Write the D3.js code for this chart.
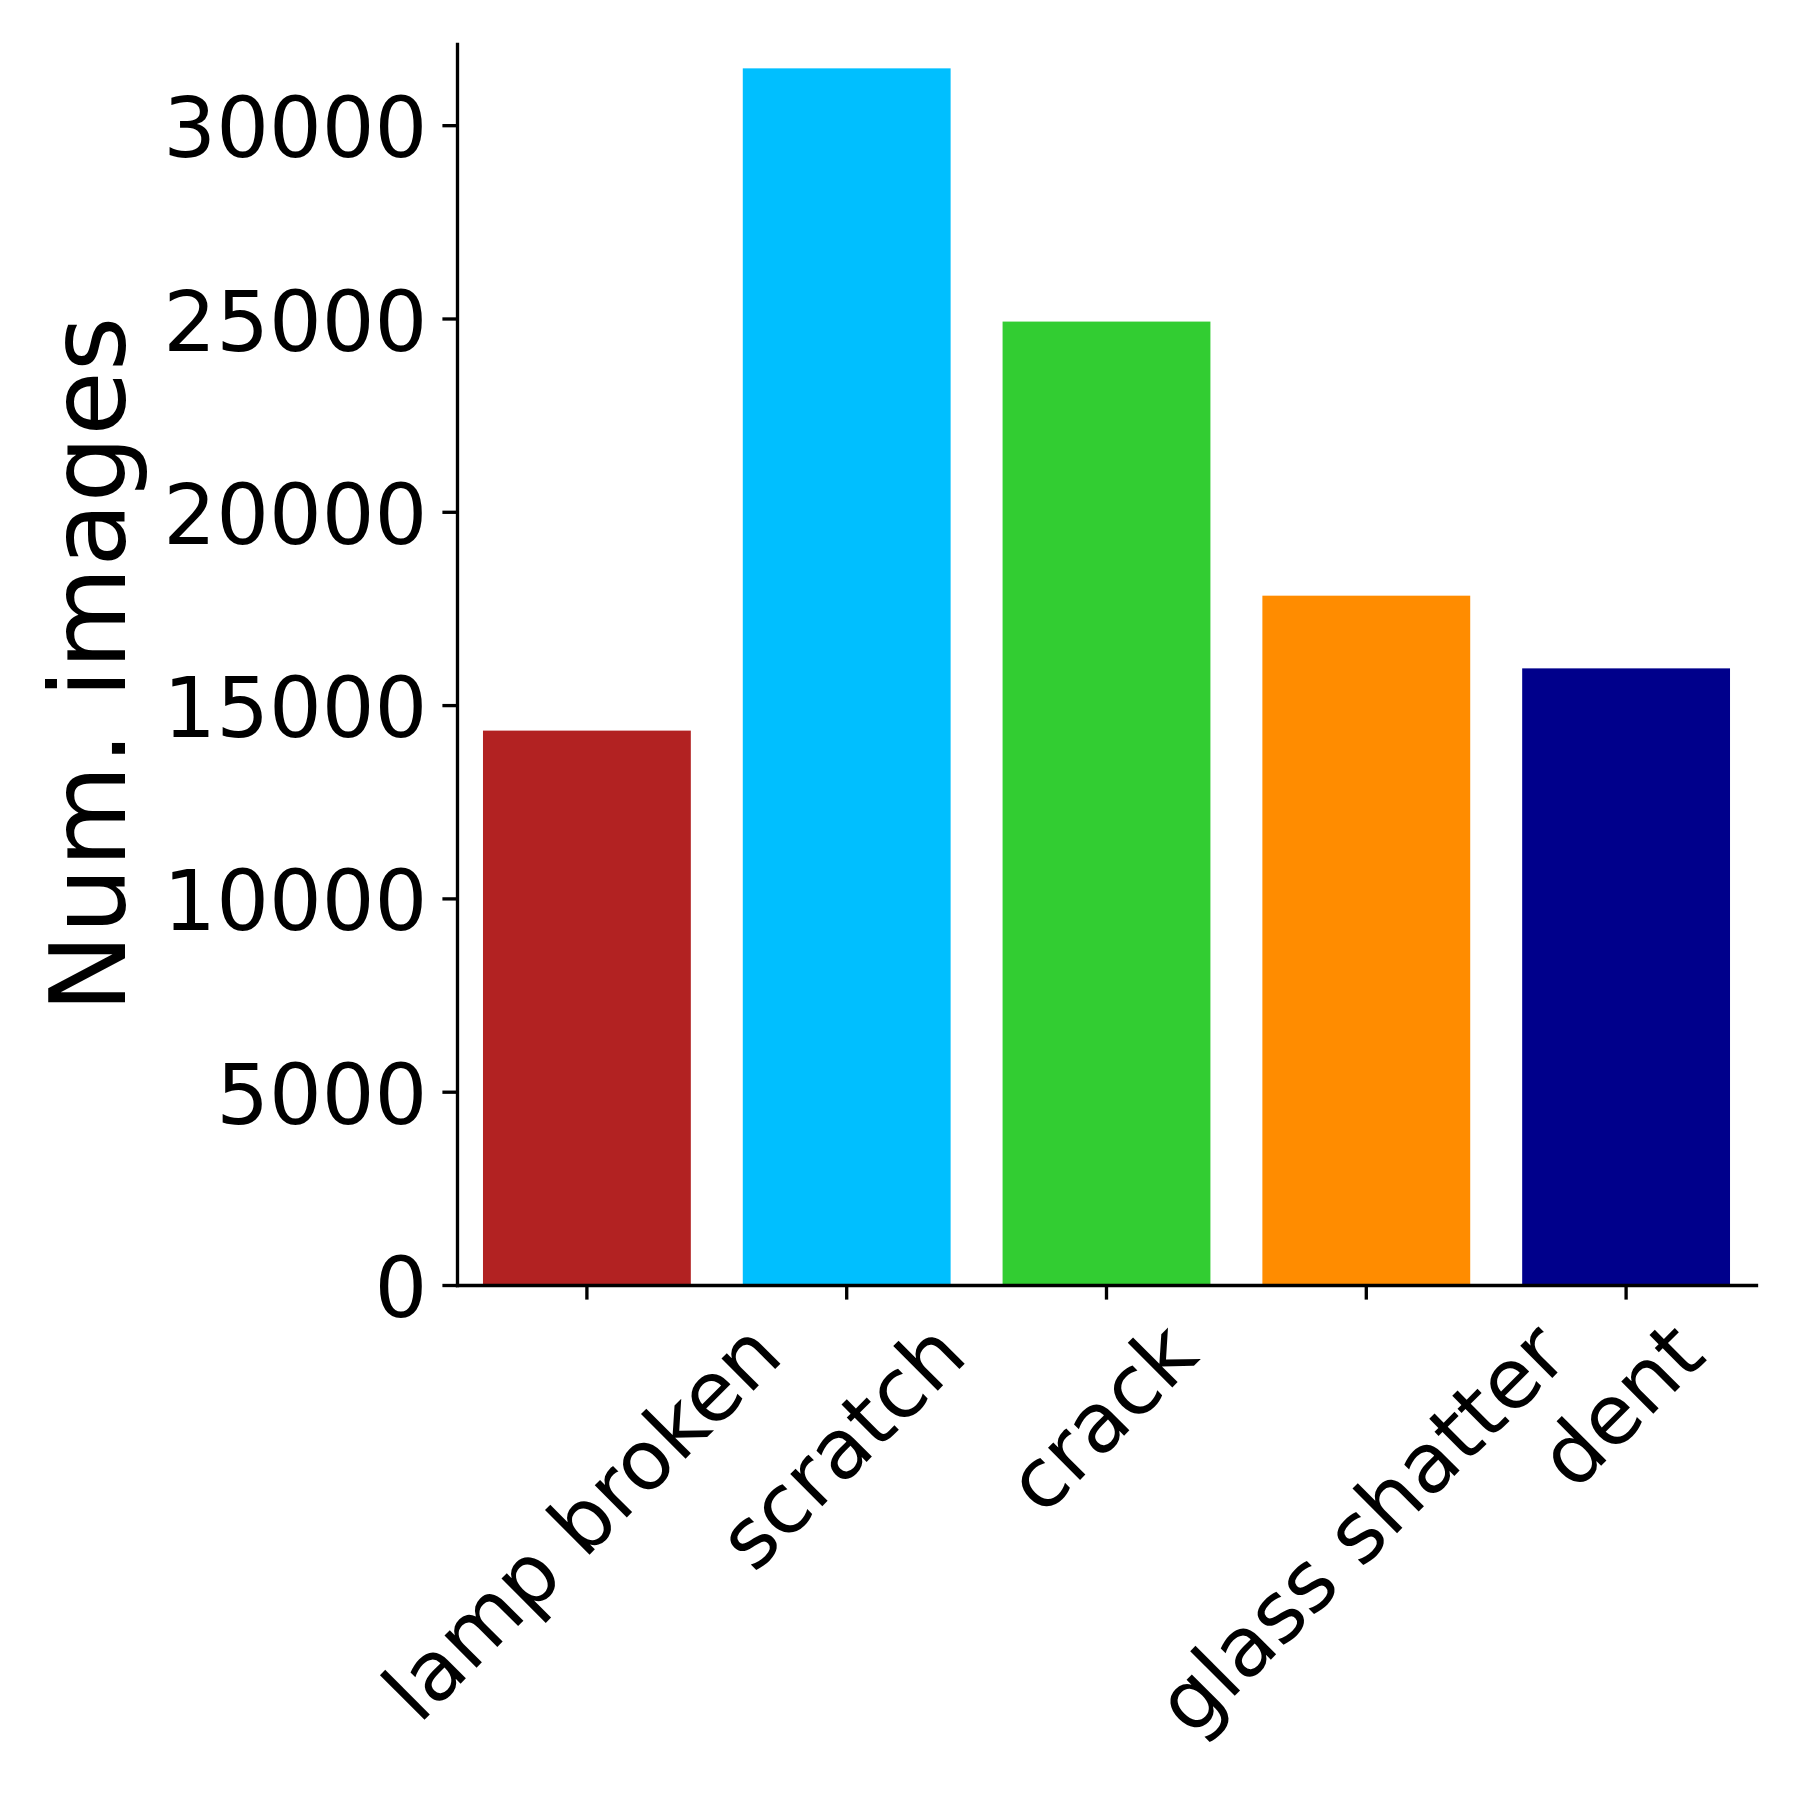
<!DOCTYPE html>
<html>
<head>
<meta charset="utf-8">
<script src="https://cdn.jsdelivr.net/npm/d3@7"></script>
<style>
    body { margin: 0; background: #ffffff; }
    #chart text { font-family: "DejaVu Sans", sans-serif; fill: #000000; }
</style>
</head>
<body>
<div id="chart"></div>
<script>
// data
const categories = ["lamp broken", "scratch", "crack", "glass shatter", "dent"];
const numImages = [14340, 31470, 24920, 17830, 15950];
const barColors = ["#b22222", "#00bfff", "#32cd32", "#ff8c00", "#00008b"];
const yTicks = [0, 5000, 10000, 15000, 20000, 25000, 30000];
const yMax = 32100;
const yLabel = "Num. images";

class BarChart {
    constructor(){
        this.svg;
        this.chartGroup;
        this.xScale;
        this.yScale;
        this.colorScale;
        this.margin;
        this.width;
        this.height;
        this.tickLen = 14.6;
        this.lineWidth = 3.33;
        this.tickFont = 83;
        this.labelFont = 105;
    }

    init(){
        this.margin = {top: 44, right: 44, bottom: 515, left: 457};
        this.width = 1800 - this.margin.left - this.margin.right;
        this.height = 1800 - this.margin.top - this.margin.bottom;

        this.svg = d3.select("#chart").append("svg").attr("width", 1800).attr("height", 1800);
        this.chartGroup = this.svg.append("g").attr("transform", "translate(" + [this.margin.left, this.margin.top] + ")");

        this.xScale = d3.scaleBand().domain(categories).range([0, this.width]).paddingInner(0.2).paddingOuter(0.1);
        this.yScale = d3.scaleLinear().domain([0, yMax]).range([this.height, 0]);
        this.colorScale = d3.scaleOrdinal().domain(categories).range(barColors);
    }

    draw(){
        let data = categories.map((c, i) => ({name: c, value: numImages[i]}));

        this.chartGroup.append("g").attr("class", "bars")
            .selectAll("rect").data(data).enter()
            .append("rect")
            .attr("x", d => this.xScale(d.name))
            .attr("y", d => this.yScale(d.value))
            .attr("width", this.xScale.bandwidth())
            .attr("height", d => this.height - this.yScale(d.value))
            .style("fill", d => this.colorScale(d.name));

        // yAxis
        let yAxis = d3.axisLeft(this.yScale).tickValues(yTicks).tickFormat(d3.format("d"))
                    .tickSize(this.tickLen).tickSizeOuter(0).tickPadding(15);
        let gy = this.chartGroup.append("g").attr("class", "axis axis-y").call(yAxis);
        this.styleAxis(gy);
        gy.selectAll("text").attr("dy", "0.38em");

        // xAxis
        let xAxis = d3.axisBottom(this.xScale).tickSize(this.tickLen).tickSizeOuter(0).tickFormat("");
        let gx = this.chartGroup.append("g").attr("class", "axis axis-x")
                    .attr("transform", "translate(0," + this.height + ")").call(xAxis);
        this.styleAxis(gx);
        gx.selectAll(".tick text").remove();

        // rotated labels, centred under the tick like matplotlib rotation=45
        let top = this.tickLen + 14.6;
        let self = this;
        gx.selectAll(".tick").each(function(d){
            let t = d3.select(this).append("text")
                .attr("text-anchor", "middle")
                .style("font-size", self.tickFont + "px")
                .text(d);
            let bb = t.node().getBBox();
            let h = self.tickFont * 1.0;
            let side = (bb.width + h) * Math.SQRT1_2;
            let cy = top + side / 2;
            let baseOff = 0.26 * self.tickFont;
            t.attr("x", 0).attr("y", baseOff)
             .attr("transform", "translate(0," + cy + ") rotate(-45)");
        });

        // y label
        this.svg.append("text")
            .attr("text-anchor", "middle")
            .attr("transform", "translate(125," + (this.margin.top + this.height / 2) + ") rotate(-90)")
            .style("font-size", this.labelFont + "px")
            .text(yLabel);
    }

    styleAxis(g){
        g.select(".domain").attr("stroke", "#000").attr("stroke-width", this.lineWidth).attr("stroke-linecap", "square");
        g.selectAll(".tick line").attr("stroke", "#000").attr("stroke-width", this.lineWidth);
        g.selectAll("text").style("font-size", this.tickFont + "px").attr("fill", "#000");
    }
}

let chart = new BarChart();
chart.init();
chart.draw();
</script>
</body>
</html>
